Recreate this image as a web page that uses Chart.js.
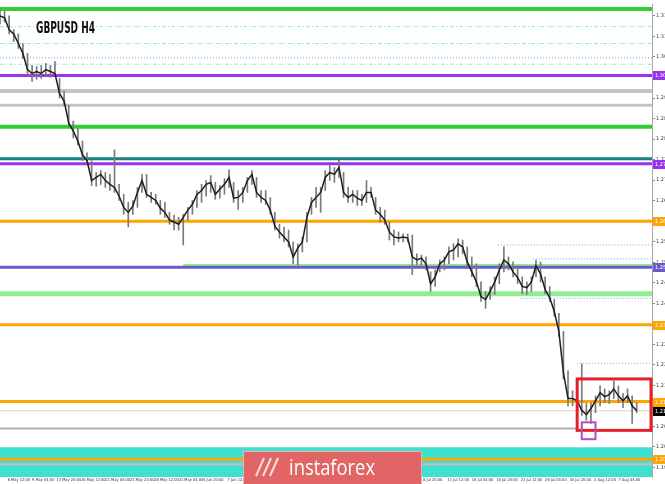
<!DOCTYPE html>
<html>
<head>
<meta charset="utf-8">
<script src="https://cdn.jsdelivr.net/npm/chart.js@4.4.1/dist/chart.umd.min.js"></script>
<style>
  html, body { margin: 0; padding: 0; background: #fff; }
</style>
</head>
<body>
<canvas id="chart" width="665" height="484"></canvas>
<script>
// GBPUSD H4, one point every 3 H4 bars
const highs = [
  1.3173,1.3168,1.3155,1.3119,1.3108,1.3083,1.3057,1.3026,1.3023,1.3026,
  1.3031,1.3026,1.3036,1.2992,1.2959,1.2922,1.2881,1.2863,1.2829,1.2798,
  1.2778,1.2747,1.2752,1.2747,1.2742,1.2806,1.2716,1.2690,1.2669,1.2674,
  1.2708,1.2742,1.2742,1.2695,1.2690,1.2674,1.2669,1.2643,1.2636,1.2630,
  1.2638,1.2656,1.2674,1.2700,1.2716,1.2726,1.2739,1.2721,1.2713,1.2731,
  1.2754,1.2721,1.2700,1.2708,1.2734,1.2752,1.2734,1.2700,1.2700,1.2682,
  1.2643,1.2612,1.2605,1.2597,1.2566,1.2561,1.2579,1.2643,1.2682,1.2708,
  1.2708,1.2752,1.2765,1.2760,1.2780,1.2747,1.2708,1.2700,1.2700,1.2690,
  1.2726,1.2708,1.2682,1.2656,1.2649,1.2618,1.2597,1.2592,1.2587,1.2587,
  1.2584,1.2535,1.2532,1.2527,1.2488,1.2493,1.2519,1.2527,1.2553,1.2561,
  1.2574,1.2571,1.2553,1.2527,1.2509,1.2462,1.2437,1.2450,1.2475,1.2509,
  1.2553,1.2527,1.2514,1.2501,1.2475,1.2462,1.2475,1.2519,1.2514,1.2475,
  1.2450,1.2416,1.2380,1.2333,1.2230,1.2178,1.2165,1.2248,1.2145,1.2147,
  1.2165,1.2191,1.2183,1.2178,1.2204,1.2191,1.2171,1.2183,1.2165,1.2147
];
const lows = [
  1.3134,1.3139,1.3108,1.3088,1.3070,1.3044,1.3000,1.2984,1.2990,1.2992,
  1.3000,1.2995,1.3000,1.2941,1.2922,1.2863,1.2837,1.2819,1.2778,1.2767,
  1.2713,1.2711,1.2716,1.2708,1.2700,1.2695,1.2674,1.2638,1.2605,1.2638,
  1.2656,1.2695,1.2682,1.2669,1.2664,1.2638,1.2630,1.2612,1.2597,1.2597,
  1.2558,1.2623,1.2638,1.2656,1.2669,1.2685,1.2695,1.2677,1.2680,1.2690,
  1.2708,1.2669,1.2651,1.2669,1.2695,1.2716,1.2682,1.2669,1.2664,1.2638,
  1.2597,1.2576,1.2566,1.2553,1.2509,1.2506,1.2540,1.2566,1.2638,1.2656,
  1.2643,1.2700,1.2726,1.2721,1.2734,1.2682,1.2669,1.2669,1.2661,1.2661,
  1.2669,1.2682,1.2638,1.2618,1.2612,1.2571,1.2558,1.2566,1.2566,1.2566,
  1.2481,1.2506,1.2501,1.2493,1.2437,1.2450,1.2488,1.2493,1.2509,1.2519,
  1.2527,1.2535,1.2501,1.2475,1.2450,1.2411,1.2393,1.2416,1.2429,1.2457,
  1.2488,1.2493,1.2475,1.2457,1.2431,1.2429,1.2437,1.2475,1.2462,1.2431,
  1.2411,1.2372,1.2320,1.2209,1.2139,1.2139,1.2127,1.2114,1.2101,1.2093,
  1.2121,1.2139,1.2147,1.2145,1.2158,1.2147,1.2134,1.2147,1.2093,1.2121
];
const closes = [
  1.3155,1.3150,1.3119,1.3108,1.3083,1.3057,1.3015,1.3005,1.3010,1.3005,
  1.3015,1.3010,1.3005,1.2953,1.2933,1.2876,1.2855,1.2829,1.2793,1.2778,
  1.2726,1.2734,1.2742,1.2726,1.2716,1.2708,1.2685,1.2656,1.2643,1.2659,
  1.2695,1.2726,1.2690,1.2682,1.2674,1.2654,1.2643,1.2623,1.2618,1.2612,
  1.2630,1.2649,1.2664,1.2690,1.2700,1.2716,1.2721,1.2690,1.2703,1.2716,
  1.2734,1.2680,1.2682,1.2695,1.2726,1.2742,1.2695,1.2682,1.2674,1.2649,
  1.2607,1.2592,1.2579,1.2566,1.2527,1.2550,1.2566,1.2630,1.2669,1.2682,
  1.2695,1.2734,1.2747,1.2742,1.2760,1.2695,1.2682,1.2690,1.2680,1.2674,
  1.2695,1.2695,1.2649,1.2638,1.2623,1.2592,1.2579,1.2576,1.2579,1.2576,
  1.2527,1.2519,1.2524,1.2509,1.2457,1.2475,1.2509,1.2519,1.2540,1.2545,
  1.2561,1.2553,1.2514,1.2488,1.2462,1.2424,1.2416,1.2437,1.2462,1.2493,
  1.2519,1.2509,1.2488,1.2473,1.2450,1.2447,1.2462,1.2504,1.2483,1.2442,
  1.2421,1.2385,1.2333,1.2225,1.2158,1.2158,1.2152,1.2127,1.2116,1.2132,
  1.2152,1.2173,1.2163,1.2168,1.2183,1.2165,1.2152,1.2165,1.2139,1.2126
];
const barsPerPoint = 3;

// time axis (in H4 bars from the first visible bar)
const xTickBars = [5,21,37,53,69,85,101,117,133,149,165,181,197,213,229,245,261,277,293,309,325,341,357,373,389,405];
const xTickLabels = ['6 May 12:00','9 May 04:00','13 May 20:00','16 May 12:00','21 May 04:00','23 May 20:00',
  '28 May 12:00','31 May 04:00','4 Jun 20:00','7 Jun 12:00','12 Jun 04:00','14 Jun 20:00','19 Jun 12:00',
  '24 Jun 04:00','26 Jun 20:00','1 Jul 12:00','4 Jul 04:00','8 Jul 20:00','11 Jul 12:00','16 Jul 04:00',
  '18 Jul 20:00','23 Jul 12:00','26 Jul 04:00','30 Jul 20:00','2 Aug 12:00','7 Aug 04:00'];
const yTicks = [1.1978,1.2032,1.2085,1.2139,1.2192,1.2246,1.2299,1.2353,1.2406,1.2460,1.2513,1.2567,
  1.2620,1.2674,1.2727,1.2781,1.2834,1.2888,1.2941,1.2995,1.3048,1.3102,1.3155];

// levels drawn on the chart
const greenLevels = [1.3173, 1.2866];
const cyanLevels = [1.3127, 1.3083, 1.3029];
const purpleLevels = [1.3000, 1.2770];
const greyLevels = [1.2959, 1.2922];
const tealLevel = 1.2783;
const orangeLevels = [1.2620, 1.2350, 1.2150, 1.2000];
const blueLevel = 1.2500;
const lightGreenLevels = [1.2506, 1.2431];
const lightGreenStart = [120, 0];
const dottedLevels = [1.3046, 1.2558, 1.2522, 1.2419, 1.2250];
const dottedStart = [0, 326, 349, 341, 378];
const supportBand = [1.2031, 1.1950];
const pinkLevel = 1.1987;
const lowLevel = 1.2080;
const lowLevelEnd = 378;
const rangeBox = { from: 378, to: 430, top: 1.2209, bottom: 1.2075 };
const lowBox = { from: 381, to: 390, top: 1.2096, bottom: 1.2052 };

const xMax = 427;
const yMin = 1.19535, yMax = 1.3186;

const wicks = highs.map((h, i) => ({ x: i * barsPerPoint, y: [lows[i], h] }));
const closeLine = closes.map((c, i) => ({ x: i * barsPerPoint, y: c }));
const lastClose = closes[closes.length - 1];

function hline(ctx, a, y, py, color, width, dash, x0, x1) {
  const yy = y.getPixelForValue(py);
  ctx.save();
  ctx.strokeStyle = color;
  ctx.lineWidth = width;
  ctx.setLineDash(dash || []);
  ctx.beginPath();
  ctx.moveTo(x0 === undefined ? a.left : x0, yy);
  ctx.lineTo(x1 === undefined ? a.right : x1, yy);
  ctx.stroke();
  ctx.restore();
}

const levelsPlugin = {
  id: 'levels',
  beforeDatasetsDraw(chart) {
    const { ctx, chartArea: a, scales: { x, y } } = chart;
    ctx.save();
    ctx.beginPath();
    ctx.rect(a.left, a.top, a.right - a.left, a.bottom - a.top);
    ctx.clip();

    const bTop = y.getPixelForValue(supportBand[0]);
    const bBot = y.getPixelForValue(supportBand[1]);
    ctx.fillStyle = '#40e0d0';
    ctx.fillRect(a.left, bTop, a.right - a.left, bBot - bTop);
    hline(ctx, a, y, pinkLevel, '#d8b4c8', 2);

    greenLevels.forEach(v => hline(ctx, a, y, v, '#32cd32', 4));
    cyanLevels.forEach(v => hline(ctx, a, y, v, '#8ee8e8', 1, [4, 2, 1, 2]));
    greyLevels.forEach((v, i) => hline(ctx, a, y, v, '#c4c4c4', i === 0 ? 4 : 3));
    hline(ctx, a, y, tealLevel, '#177f7f', 3);
    purpleLevels.forEach(v => hline(ctx, a, y, v, '#9933ee', 3));
    lightGreenLevels.forEach((v, i) => hline(ctx, a, y, v, '#90ee90', i === 0 ? 2 : 5, null, x.getPixelForValue(lightGreenStart[i])));
    hline(ctx, a, y, blueLevel, '#6a5acd', 3);
    orangeLevels.forEach(v => hline(ctx, a, y, v, '#ffa500', 3));
    dottedLevels.forEach((v, i) => hline(ctx, a, y, v, '#66aaff', 1, [1, 2], x.getPixelForValue(dottedStart[i])));
    hline(ctx, a, y, lastClose, '#d6d6d6', 1);
    hline(ctx, a, y, lowLevel, '#b0b0b0', 2, null, a.left, x.getPixelForValue(lowLevelEnd));
    ctx.restore();
  },
  afterDatasetsDraw(chart) {
    const { ctx, chartArea: a, scales: { x, y } } = chart;
    ctx.save();
    ctx.strokeStyle = '#e3202c';
    ctx.lineWidth = 3;
    let x0 = x.getPixelForValue(rangeBox.from), x1 = x.getPixelForValue(rangeBox.to);
    let y0 = y.getPixelForValue(rangeBox.top), y1 = y.getPixelForValue(rangeBox.bottom);
    ctx.strokeRect(x0, y0, Math.min(x1, a.right - 1) - x0, y1 - y0);
    ctx.strokeStyle = '#b050c0';
    ctx.lineWidth = 2;
    x0 = x.getPixelForValue(lowBox.from); x1 = x.getPixelForValue(lowBox.to);
    y0 = y.getPixelForValue(lowBox.top); y1 = y.getPixelForValue(lowBox.bottom);
    ctx.strokeRect(x0, y0, x1 - x0, y1 - y0);
    ctx.restore();
  },
  afterDraw(chart) {
    const { ctx, chartArea: a, scales: { y } } = chart;
    ctx.save();
    // price tags on the right axis
    const tags = [
      [purpleLevels[0], '#9933ee'], [purpleLevels[1], '#9933ee'], [orangeLevels[0], '#ffa500'],
      [blueLevel, '#6a5acd'], [orangeLevels[1], '#ffa500'], [orangeLevels[2], '#ffa500'],
      [lastClose, '#000000'], [orangeLevels[3], '#ffa500']
    ];
    ctx.font = '5px "DejaVu Sans"';
    ctx.textBaseline = 'middle';
    tags.forEach(([v, c]) => {
      const yy = Math.round(y.getPixelForValue(v));
      ctx.fillStyle = c;
      ctx.fillRect(a.right + 1, yy - 4, 20, 9);
      ctx.fillStyle = '#fff';
      ctx.fillText(v.toFixed(4), a.right + 3, yy + 0.5);
    });

    // title
    ctx.fillStyle = '#111';
    ctx.font = 'bold 16px "Liberation Sans Narrow", "DejaVu Sans Condensed", sans-serif';
    ctx.textBaseline = 'alphabetic';
    const title = 'GBPUSD H4';
    const tw = ctx.measureText(title).width;
    ctx.translate(36, 33);
    ctx.scale(59 / tw, 1);
    ctx.fillText(title, 0, 0);
    ctx.restore();

    // watermark banner
    ctx.save();
    ctx.fillStyle = '#e26565';
    ctx.fillRect(243, 451, 179, 33);
    ctx.strokeStyle = '#f3b0b0';
    ctx.lineWidth = 1;
    ctx.strokeRect(243.5, 451.5, 178, 33);
    ctx.strokeStyle = '#fbdede';
    ctx.lineWidth = 2;
    for (let k = 0; k < 3; k++) {
      ctx.beginPath();
      ctx.moveTo(256 + k * 7, 476);
      ctx.lineTo(264 + k * 7, 458);
      ctx.stroke();
    }
    ctx.fillStyle = '#fff';
    ctx.font = '22px "Open Sans", "DejaVu Sans", sans-serif';
    ctx.textBaseline = 'alphabetic';
    const bw = ctx.measureText('instaforex').width;
    ctx.translate(289, 475);
    ctx.scale(86 / bw, 1);
    ctx.fillText('instaforex', 0, 0);
    ctx.restore();
  }
};

new Chart(document.getElementById('chart'), {
  type: 'bar',
  data: {
    datasets: [
      {
        type: 'line',
        data: closeLine,
        borderColor: '#1e1e1e',
        borderWidth: 1.5,
        pointRadius: 0,
        tension: 0,
        order: 1
      },
      {
        type: 'bar',
        data: wicks,
        backgroundColor: '#7a7a7a',
        barThickness: 1,
        order: 2
      }
    ]
  },
  options: {
    responsive: false,
    animation: false,
    devicePixelRatio: 1,
    layout: { padding: 0 },
    plugins: { legend: { display: false }, tooltip: { enabled: false } },
    scales: {
      x: {
        type: 'linear',
        min: 0,
        max: xMax,
        offset: false,
        afterBuildTicks: s => { s.ticks = xTickBars.map(v => ({ value: v })); },
        afterFit: s => { s.height = 7; },
        grid: { display: false, drawTicks: false, tickLength: 0 },
        border: { display: false },
        ticks: {
          autoSkip: false,
          maxRotation: 0,
          align: 'start',
          padding: 1,
          color: '#333',
          font: { size: 4, family: '"Liberation Sans Narrow", "DejaVu Sans Condensed", sans-serif' },
          callback: (v) => {
            const k = xTickBars.indexOf(v);
            return k >= 0 ? xTickLabels[k] : '';
          }
        }
      },
      y: {
        type: 'linear',
        position: 'right',
        min: yMin,
        max: yMax,
        afterBuildTicks: s => { s.ticks = yTicks.map(v => ({ value: v })); },
        afterFit: s => { s.width = 13; },
        grid: { drawOnChartArea: false, tickLength: 3, color: '#888' },
        border: { display: true, color: '#a8a8a8', width: 1 },
        ticks: {
          padding: 1,
          color: '#444',
          font: { size: 5, family: 'DejaVu Sans' },
          callback: v => v.toFixed(4)
        }
      }
    }
  },
  plugins: [levelsPlugin]
});
</script>
</body>
</html>
